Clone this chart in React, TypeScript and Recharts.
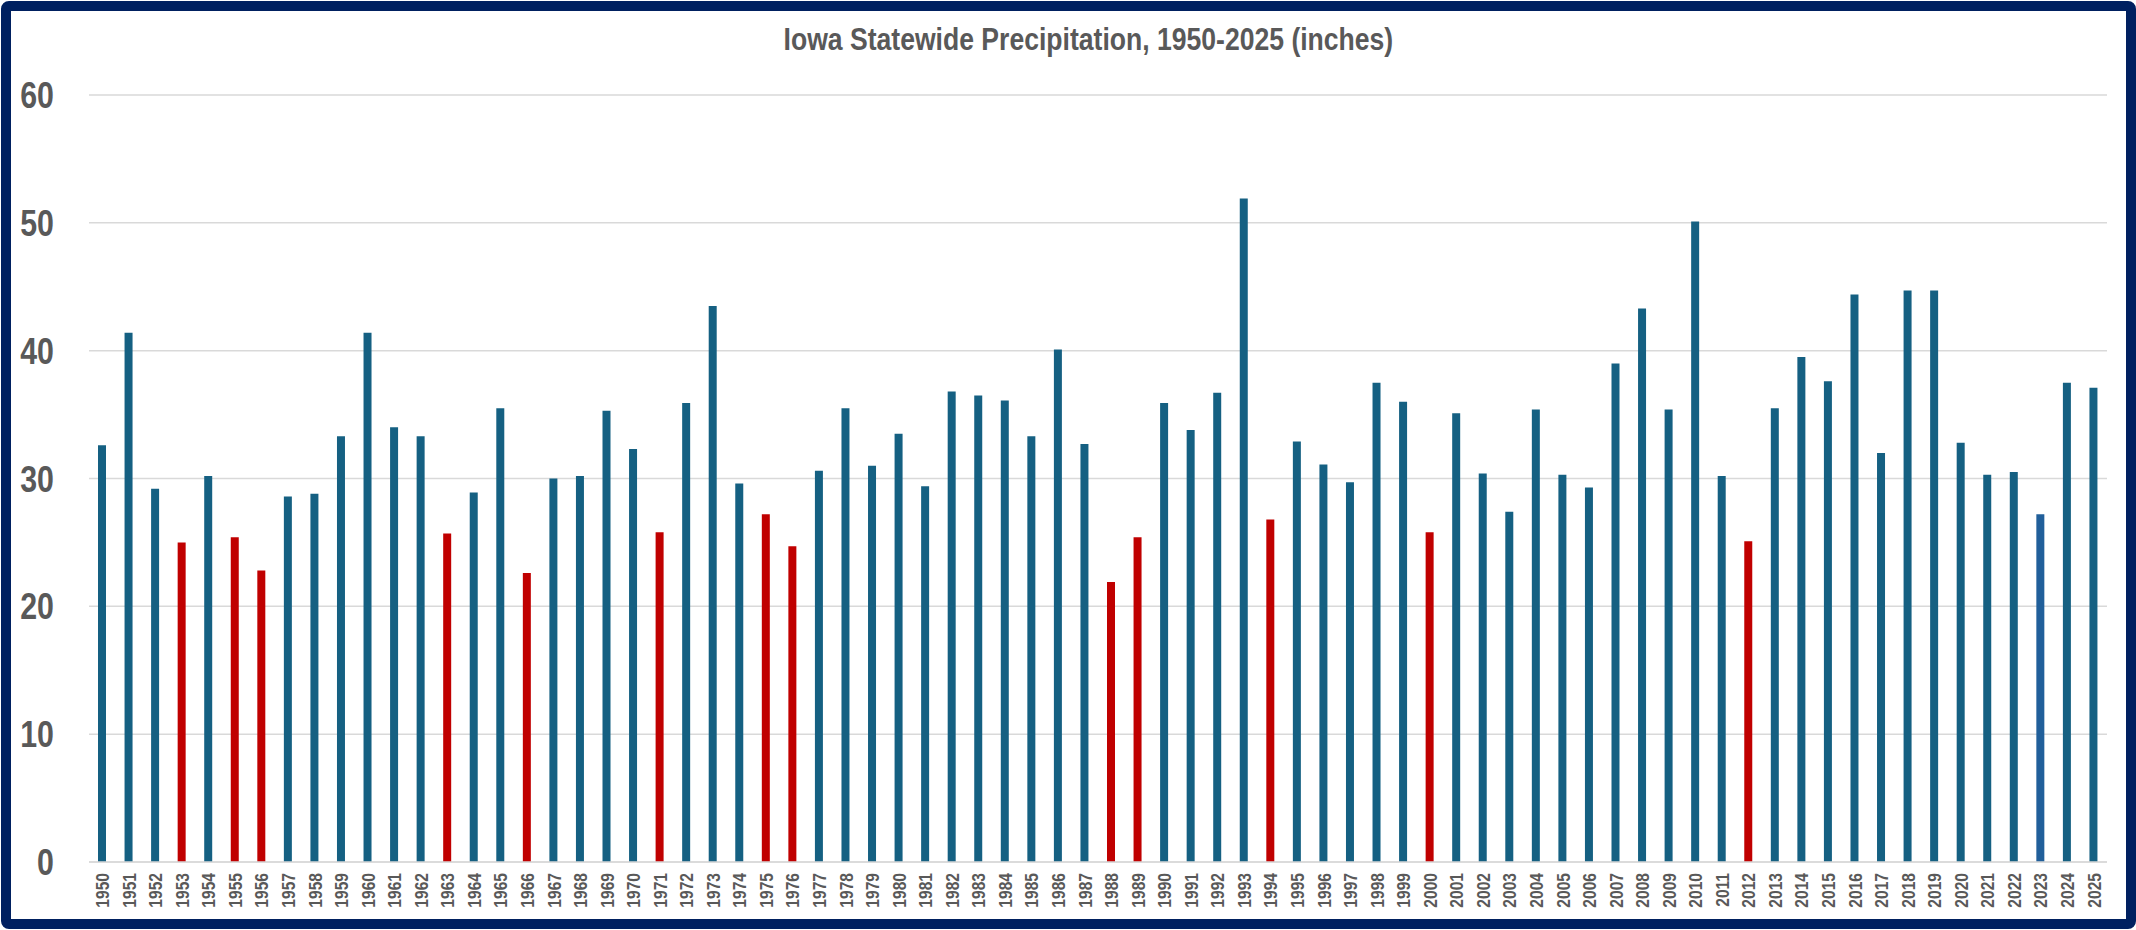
import { Bar, BarChart, CartesianGrid, Cell, XAxis, YAxis } from 'recharts';

// annual statewide totals, inches
const years = [
  1950, 1951, 1952, 1953, 1954, 1955, 1956, 1957, 1958, 1959, 1960, 1961, 1962,
  1963, 1964, 1965, 1966, 1967, 1968, 1969, 1970, 1971, 1972, 1973, 1974, 1975,
  1976, 1977, 1978, 1979, 1980, 1981, 1982, 1983, 1984, 1985, 1986, 1987, 1988,
  1989, 1990, 1991, 1992, 1993, 1994, 1995, 1996, 1997, 1998, 1999, 2000, 2001,
  2002, 2003, 2004, 2005, 2006, 2007, 2008, 2009, 2010, 2011, 2012, 2013, 2014,
  2015, 2016, 2017, 2018, 2019, 2020, 2021, 2022, 2023, 2024, 2025,
];

const precip = [
  32.6, 41.4, 29.2, 25.0, 30.2, 25.4, 22.8, 28.6, 28.8, 33.3, 41.4, 34.0, 33.3,
  25.7, 28.9, 35.5, 22.6, 30.0, 30.2, 35.3, 32.3, 25.8, 35.9, 43.5, 29.6, 27.2,
  24.7, 30.6, 35.5, 31.0, 33.5, 29.4, 36.8, 36.5, 36.1, 33.3, 40.1, 32.7, 21.9,
  25.4, 35.9, 33.8, 36.7, 51.9, 26.8, 32.9, 31.1, 29.7, 37.5, 36.0, 25.8, 35.1,
  30.4, 27.4, 35.4, 30.3, 29.3, 39.0, 43.3, 35.4, 50.1, 30.2, 25.1, 35.5, 39.5,
  37.6, 44.4, 32.0, 44.7, 44.7, 32.8, 30.3, 30.5, 27.2, 37.5, 37.1,
];

// drought years shown in red
const dryYears = [1953, 1955, 1956, 1963, 1966, 1971, 1975, 1976, 1988, 1989, 1994, 2000, 2012];
const currentYear = 2023;

const yTicks = [0, 10, 20, 30, 40, 50, 60];

const data = years.map((year, i) => ({ year: String(year), value: precip[i] }));

const FONT = '"Liberation Sans", Arial, sans-serif';
const GRAY = '#595959';
const NARROW = 0.82; // squeeze to mimic the narrow face

const YearTick = ({ x, y, payload }: any) => (
  <g transform={`translate(${x},${y}) rotate(-90)`}>
    <text
      transform={`scale(${NARROW},1)`}
      textAnchor="end"
      dy="0.36em"
      fill={GRAY}
      fontSize={19}
      fontWeight={700}
      fontFamily={FONT}
    >
      {payload.value}
    </text>
  </g>
);

const ValueTick = ({ x, y, payload }: any) => (
  <g transform={`translate(${x},${y})`}>
    <text
      transform={`scale(${NARROW},1)`}
      textAnchor="end"
      dy="0.355em"
      fill={GRAY}
      fontSize={37}
      fontWeight={700}
      fontFamily={FONT}
    >
      {payload.value}
    </text>
  </g>
);

const barColor = (year: number) => {
  if (dryYears.includes(year)) return '#C00000';
  if (year === currentYear) return '#215F9A';
  return '#156082';
};

export default function App() {
  return (
    <div style={{ position: 'relative', width: 2136, height: 930, background: '#fff' }}>
      <style>{'body { margin: 0; }'}</style>
      <div
        style={{
          position: 'absolute',
          left: 1,
          top: 1,
          width: 2135,
          height: 928,
          boxSizing: 'border-box',
          border: '10px solid #002060',
          borderRadius: 8,
          background: '#fff',
        }}
      >
        <div
          style={{
            position: 'absolute',
            left: 20,
            top: 10,
            width: 2115,
            textAlign: 'center',
            fontFamily: FONT,
            fontWeight: 700,
            fontSize: 32,
            color: GRAY,
            transform: 'scaleX(0.83)',
            transformOrigin: '1057px 0',
          }}
        >
          Iowa Statewide Precipitation, 1950-2025 (inches)
        </div>
        <BarChart
          width={2114}
          height={907}
          data={data}
          margin={{ top: 84, right: 18, bottom: 0, left: 0 }}
          barSize={8}
        >
          <CartesianGrid vertical={false} stroke="#D9D9D9" strokeWidth={1.5} />
          <XAxis
            dataKey="year"
            interval={0}
            height={56}
            tickLine={false}
            tickSize={0}
            tickMargin={11}
            axisLine={{ stroke: '#D9D9D9', strokeWidth: 1.5 }}
            tick={<YearTick />}
          />
          <YAxis
            domain={[0, 60]}
            ticks={yTicks}
            width={78}
            axisLine={false}
            tickLine={false}
            tickSize={0}
            tickMargin={35}
            tick={<ValueTick />}
          />
          <Bar dataKey="value" isAnimationActive={false}>
            {data.map((entry) => (
              <Cell key={entry.year} fill={barColor(Number(entry.year))} />
            ))}
          </Bar>
        </BarChart>
      </div>
    </div>
  );
}
